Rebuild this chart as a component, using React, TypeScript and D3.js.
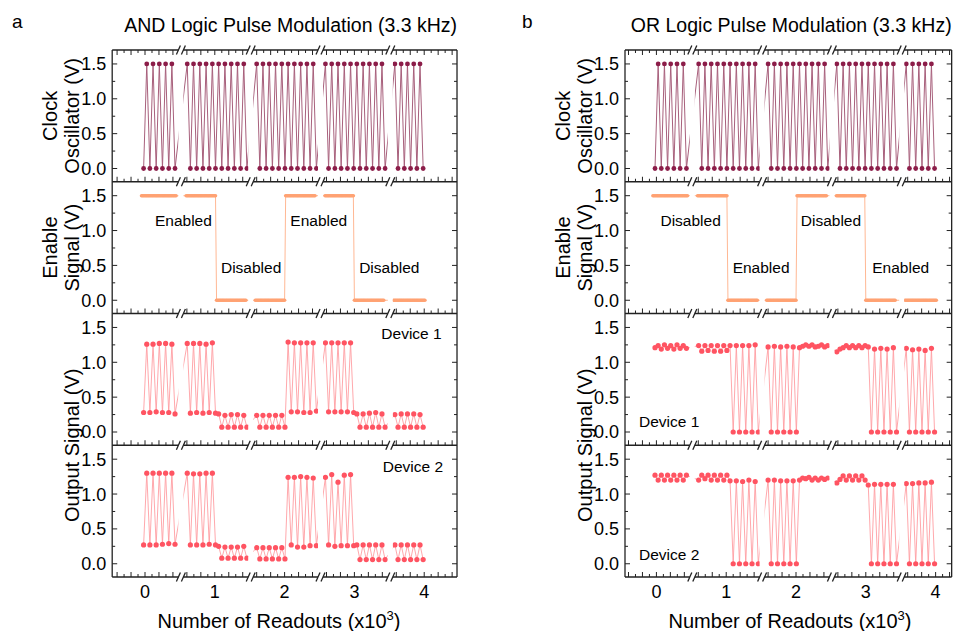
import React from 'react';
import * as d3 from 'd3';

// ---------- data (x in units of 10^3 readouts, y in volts) ----------
const xTickLabels = [0, 1, 2, 3, 4];
const yMajorTicks = [0, 0.5, 1.0, 1.5];
const yMinorTicks = [0.25, 0.75, 1.25];
const axisBreaks = [0.5, 1.5, 2.5, 3.5];

// first sample of every recorded block and the spacing between samples
const blockStarts = [-0.02, 0.605, 1.6, 2.585, 3.58];
const sampleStep = 0.045;
const enableStarts = [-0.05, 0.59, 1.58, 2.58, 3.56];
const enableStep = 0.015;

const clockSignal = [
  [0, 1.5, 0, 1.5, 0, 1.5, 0, 1.5, 0, 1.5, 0],
  [1.5, 0, 1.5, 0, 1.5, 0, 1.5, 0, 1.5, 0, 1.5, 0, 1.5, 0, 1.5, 0, 1.5, 0, 1.5, 0],
  [1.5, 0, 1.5, 0, 1.5, 0, 1.5, 0, 1.5, 0, 1.5, 0, 1.5, 0, 1.5, 0, 1.5, 0, 1.5, 0],
  [1.5, 0, 1.5, 0, 1.5, 0, 1.5, 0, 1.5, 0, 1.5, 0, 1.5, 0, 1.5, 0, 1.5, 0, 1.5, 0],
  [1.5, 0, 1.5, 0, 1.5, 0, 1.5, 0, 1.5, 0],
];

// enable level per block as [volts, number of samples]
const enableRuns = [
  [[1.5, 34]],
  [[1.5, 29], [0, 29]],
  [[0, 29], [1.5, 29]],
  [[1.5, 28], [0, 29]],
  [[0, 31]],
];

const andDevice1 = [
  [0.28, 1.26, 0.28, 1.26, 0.29, 1.27, 0.28, 1.27, 0.28, 1.26, 0.26],
  [1.27, 0.27, 1.27, 0.28, 1.27, 0.27, 1.26, 0.28, 1.28, 0.27, 0.26, 0.07, 0.24, 0.07, 0.25, 0.07, 0.25, 0.07, 0.24, 0.07],
  [0.24, 0.07, 0.24, 0.07, 0.24, 0.07, 0.24, 0.07, 0.24, 0.07, 1.29, 0.29, 1.28, 0.29, 1.28, 0.28, 1.28, 0.28, 1.28, 0.3],
  [1.28, 0.29, 1.28, 0.29, 1.28, 0.29, 1.28, 0.29, 1.28, 0.28, 0.26, 0.07, 0.26, 0.07, 0.27, 0.07, 0.28, 0.07, 0.26, 0.07],
  [0.25, 0.07, 0.26, 0.07, 0.26, 0.07, 0.26, 0.07, 0.25, 0.07],
];

const andDevice2 = [
  [0.27, 1.3, 0.27, 1.3, 0.27, 1.3, 0.28, 1.3, 0.29, 1.3, 0.28],
  [1.3, 0.27, 1.29, 0.27, 1.29, 0.27, 1.3, 0.28, 1.3, 0.27, 0.25, 0.08, 0.24, 0.08, 0.24, 0.08, 0.24, 0.08, 0.25, 0.08],
  [0.23, 0.07, 0.23, 0.07, 0.23, 0.07, 0.23, 0.07, 0.23, 0.07, 1.24, 0.27, 1.24, 0.24, 1.25, 0.24, 1.24, 0.26, 1.23, 0.26],
  [1.24, 0.27, 1.28, 0.25, 1.17, 0.26, 1.27, 0.26, 1.28, 0.26, 0.27, 0.06, 0.27, 0.06, 0.27, 0.06, 0.27, 0.06, 0.27, 0.06],
  [0.27, 0.06, 0.27, 0.06, 0.27, 0.06, 0.27, 0.06, 0.27, 0.06],
];

const orDevice1 = [
  [1.21, 1.24, 1.19, 1.25, 1.2, 1.24, 1.19, 1.25, 1.2, 1.24, 1.2],
  [1.24, 1.16, 1.24, 1.17, 1.24, 1.16, 1.24, 1.16, 1.24, 1.17, 1.24, 0, 1.24, 0, 1.24, 0, 1.24, 0, 1.25, 0],
  [1.22, 0, 1.23, 0, 1.22, 0, 1.23, 0, 1.22, 0, 1.21, 1.23, 1.25, 1.23, 1.25, 1.22, 1.23, 1.25, 1.22, 1.24],
  [1.15, 1.19, 1.21, 1.24, 1.21, 1.24, 1.21, 1.24, 1.21, 1.24, 1.22, 0, 1.19, 0, 1.2, 0, 1.19, 0, 1.21, 0],
  [1.2, 0, 1.18, 0, 1.19, 0, 1.17, 0, 1.2, 0],
];

const orDevice2 = [
  [1.27, 1.2, 1.27, 1.2, 1.27, 1.2, 1.27, 1.2, 1.27, 1.2, 1.27],
  [1.2, 1.27, 1.22, 1.27, 1.2, 1.27, 1.2, 1.27, 1.2, 1.27, 1.19, 0, 1.19, 0, 1.18, 0, 1.2, 0, 1.18, 0],
  [1.2, 0, 1.2, 0, 1.19, 0, 1.19, 0, 1.19, 0, 1.2, 1.23, 1.22, 1.24, 1.2, 1.23, 1.2, 1.23, 1.21, 1.23],
  [1.16, 1.21, 1.26, 1.2, 1.26, 1.2, 1.26, 1.2, 1.26, 1.2, 1.13, 0, 1.14, 0, 1.14, 0, 1.14, 0, 1.14, 0],
  [1.15, 0, 1.15, 0, 1.16, 0, 1.16, 0, 1.17, 0],
];

// ---------- layout ----------
const FONT = "'Liberation Sans', Arial, Helvetica, sans-serif";
const plotTop = 50;
const plotBottom = 577;
const yDomain = [-0.19, 1.7];
const clockDot = '#8c1d49';
const clockLine = '#a8607c';
const enableDot = '#ffa273';
const enableLine = '#ffb894';
const outDot = '#ff5462';
const outLine = '#ff9ea3';

type Pt = { x: number; y: number };

function blockPoints(blocks: number[][]): Pt[] {
  return blocks.flatMap((vals, b) => vals.map((v, i) => ({ x: blockStarts[b] + i * sampleStep, y: v })));
}

function enablePoints(): Pt[] {
  const pts: Pt[] = [];
  enableRuns.forEach((runs, b) => {
    let i = 0;
    runs.forEach(([v, n]) => {
      for (let k = 0; k < n; k++) {
        pts.push({ x: enableStarts[b] + i * enableStep, y: v });
        i++;
      }
    });
  });
  return pts;
}

type Note = { text: string; x: number; y: number; anchor: string };

type Spec = {
  id: string;
  letter: string;
  letterX: number;
  title: string;
  left: number;
  xDomain: [number, number];
  xLabelX: number;
  enableNotes: Note[];
  device1: number[][];
  device2: number[][];
  device1Note: Note;
  device2Note: Note;
};

const pxPerUnit = 69.8;

function LogicChart({ spec }: { spec: Spec }) {
  const right = spec.left + (spec.xDomain[1] - spec.xDomain[0]) * pxPerUnit;
  const x = d3.scaleLinear().domain(spec.xDomain).range([spec.left, right]);
  const panelH = (plotBottom - plotTop) / 4;
  const panels = [0, 1, 2, 3].map((i) => plotTop + i * panelH);
  const yScales = panels.map((t) => d3.scaleLinear().domain(yDomain).range([t + panelH, t]));

  const gaps = axisBreaks.map((b) => [x(b) - 1.5, x(b) + 3.5]);
  const spans: number[][] = [];
  let cur = spec.left;
  gaps.forEach(([g0, g1]) => {
    spans.push([cur, g0]);
    cur = g1;
  });
  spans.push([cur, right]);

  const clipId = `clip-${spec.id}`;
  const series = [
    { pts: blockPoints(clockSignal), panel: 0, dot: clockDot, line: clockLine, r: 2.4, lw: 1 },
    { pts: enablePoints(), panel: 1, dot: enableDot, line: enableLine, r: 1.8, lw: 1 },
    { pts: blockPoints(spec.device1), panel: 2, dot: outDot, line: outLine, r: 2.6, lw: 0.9 },
    { pts: blockPoints(spec.device2), panel: 3, dot: outDot, line: outLine, r: 2.6, lw: 0.9 },
  ];

  const xTicks = d3
    .range(-5, 46)
    .map((i) => i / 10)
    .filter((t) => t > spec.xDomain[0] && t < spec.xDomain[1])
    .filter((t) => gaps.every(([g0, g1]) => x(t) < g0 - 1 || x(t) > g1 + 1));

  const hLines = [plotTop, ...panels.slice(1), plotBottom];

  return (
    <g>
      <defs>
        <clipPath id={clipId}>
          {spans.map(([a, b], i) => (
            <rect key={i} x={a} y={plotTop} width={b - a} height={plotBottom - plotTop} />
          ))}
        </clipPath>
      </defs>

      <text x={spec.letterX} y={28} fontSize={19} fontFamily={FONT}>
        {spec.letter}
      </text>
      <text x={right} y={32} fontSize={19.5} textAnchor="end" fontFamily={FONT}>
        {spec.title}
      </text>

      {/* data */}
      <g clipPath={`url(#${clipId})`}>
        {series.map((s, si) => {
          const y = yScales[s.panel];
          const line = d3
            .line<Pt>()
            .x((d) => x(d.x))
            .y((d) => y(d.y));
          return (
            <g key={si}>
              <path d={line(s.pts) || ''} fill="none" stroke={s.line} strokeWidth={s.lw} />
              {s.pts.map((d, i) => (
                <circle key={i} cx={x(d.x)} cy={y(d.y)} r={s.r} fill={s.dot} />
              ))}
            </g>
          );
        })}
      </g>

      {/* frame */}
      <g stroke="#222" strokeWidth={1.3} fill="none">
        <line x1={spec.left} x2={spec.left} y1={plotTop} y2={plotBottom} />
        <line x1={right} x2={right} y1={plotTop} y2={plotBottom} />
        {hLines.map((hy, i) =>
          spans.map(([a, b], j) => <line key={`${i}-${j}`} x1={a} x2={b} y1={hy} y2={hy} />)
        )}
        {hLines.map((hy, i) =>
          gaps.map(([g0, g1], j) => (
            <g key={`b${i}-${j}`}>
              <line x1={g0 - 2} y1={hy + 4.5} x2={g0 + 2} y2={hy - 4.5} />
              <line x1={g1 - 2} y1={hy + 4.5} x2={g1 + 2} y2={hy - 4.5} />
            </g>
          ))
        )}
      </g>

      {/* x ticks: down from the top frame, up from each panel bottom */}
      <g stroke="#222" strokeWidth={1}>
        {xTicks.map((t, i) => {
          const len = Math.round(t * 10) % 2 === 0 ? 5 : 3;
          return (
            <g key={i}>
              <line x1={x(t)} x2={x(t)} y1={plotTop} y2={plotTop + len} />
              {hLines.slice(1).map((hy, k) => (
                <line key={k} x1={x(t)} x2={x(t)} y1={hy} y2={hy - len} />
              ))}
            </g>
          );
        })}
      </g>

      {/* y ticks */}
      {yScales.map((y, pi) => (
        <g key={pi}>
          <g stroke="#222" strokeWidth={1}>
            {yMajorTicks.map((v) => (
              <g key={v}>
                <line x1={spec.left} x2={spec.left + 5} y1={y(v)} y2={y(v)} />
                <line x1={right} x2={right - 5} y1={y(v)} y2={y(v)} />
              </g>
            ))}
            {yMinorTicks.map((v) => (
              <g key={v}>
                <line x1={spec.left} x2={spec.left + 3} y1={y(v)} y2={y(v)} />
                <line x1={right} x2={right - 3} y1={y(v)} y2={y(v)} />
              </g>
            ))}
          </g>
          {yMajorTicks.map((v) => (
            <text
              key={v}
              x={spec.left - 6}
              y={y(v)}
              dy="0.36em"
              textAnchor="end"
              fontSize={18}
              fontFamily={FONT}
            >
              {v.toFixed(1)}
            </text>
          ))}
        </g>
      ))}

      {/* x tick labels */}
      {xTickLabels.map((t) => (
        <text key={t} x={x(t)} y={598} textAnchor="middle" fontSize={18} fontFamily={FONT}>
          {t}
        </text>
      ))}
      <text x={spec.xLabelX} y={628} textAnchor="middle" fontSize={20} fontFamily={FONT}>
        Number of Readouts (x10
        <tspan dy={-8} fontSize={13}>
          3
        </tspan>
        <tspan dy={8}>)</tspan>
      </text>

      {/* y titles */}
      {[
        { lines: ['Clock', 'Oscillator (V)'], cy: panels[0] + panelH / 2 },
        { lines: ['Enable', 'Signal (V)'], cy: panels[1] + panelH / 2 },
        { lines: ['Output Signal (V)'], cy: panels[3] },
      ].map((t, i) => {
        const xs = t.lines.length === 2 ? [spec.left - 62, spec.left - 40] : [spec.left - 40];
        return t.lines.map((txt, k) => (
          <text
            key={`${i}-${k}`}
            transform={`translate(${xs[k]},${t.cy}) rotate(-90)`}
            dy="0.35em"
            textAnchor="middle"
            fontSize={20}
            fontFamily={FONT}
          >
            {txt}
          </text>
        ));
      })}

      {/* annotations */}
      {spec.enableNotes.map((n, i) => (
        <text key={i} x={x(n.x)} y={yScales[1](n.y)} textAnchor={n.anchor} fontSize={15.5} fontFamily={FONT}>
          {n.text}
        </text>
      ))}
      <text
        x={x(spec.device1Note.x)}
        y={yScales[2](spec.device1Note.y)}
        textAnchor={spec.device1Note.anchor}
        fontSize={15.5}
        fontFamily={FONT}
      >
        {spec.device1Note.text}
      </text>
      <text
        x={x(spec.device2Note.x)}
        y={yScales[3](spec.device2Note.y)}
        textAnchor={spec.device2Note.anchor}
        fontSize={15.5}
        fontFamily={FONT}
      >
        {spec.device2Note.text}
      </text>
    </g>
  );
}

const chartA: Spec = {
  id: 'and',
  letter: 'a',
  letterX: 12,
  title: 'AND Logic Pulse Modulation (3.3 kHz)',
  left: 112.2,
  xDomain: [-0.47, 4.47],
  xLabelX: 279,
  enableNotes: [
    { text: 'Enabled', x: 0.55, y: 1.07, anchor: 'middle' },
    { text: 'Disabled', x: 1.52, y: 0.39, anchor: 'middle' },
    { text: 'Enabled', x: 2.49, y: 1.07, anchor: 'middle' },
    { text: 'Disabled', x: 3.5, y: 0.39, anchor: 'middle' },
  ],
  device1: andDevice1,
  device2: andDevice2,
  device1Note: { text: 'Device 1', x: 4.25, y: 1.34, anchor: 'end' },
  device2Note: { text: 'Device 2', x: 4.27, y: 1.32, anchor: 'end' },
};

const chartB: Spec = {
  id: 'or',
  letter: 'b',
  letterX: 522,
  title: 'OR Logic Pulse Modulation (3.3 kHz)',
  left: 625,
  xDomain: [-0.45, 4.23],
  xLabelX: 790,
  enableNotes: [
    { text: 'Disabled', x: 0.49, y: 1.07, anchor: 'middle' },
    { text: 'Enabled', x: 1.5, y: 0.39, anchor: 'middle' },
    { text: 'Disabled', x: 2.5, y: 1.07, anchor: 'middle' },
    { text: 'Enabled', x: 3.5, y: 0.39, anchor: 'middle' },
  ],
  device1: orDevice1,
  device2: orDevice2,
  device1Note: { text: 'Device 1', x: -0.25, y: 0.07, anchor: 'start' },
  device2Note: { text: 'Device 2', x: -0.25, y: 0.05, anchor: 'start' },
};

export default function App() {
  return (
    <svg
      width={965}
      height={631}
      style={{ position: 'absolute', left: 0, top: 0, background: '#fff' }}
    >
      <LogicChart spec={chartA} />
      <LogicChart spec={chartB} />
    </svg>
  );
}
